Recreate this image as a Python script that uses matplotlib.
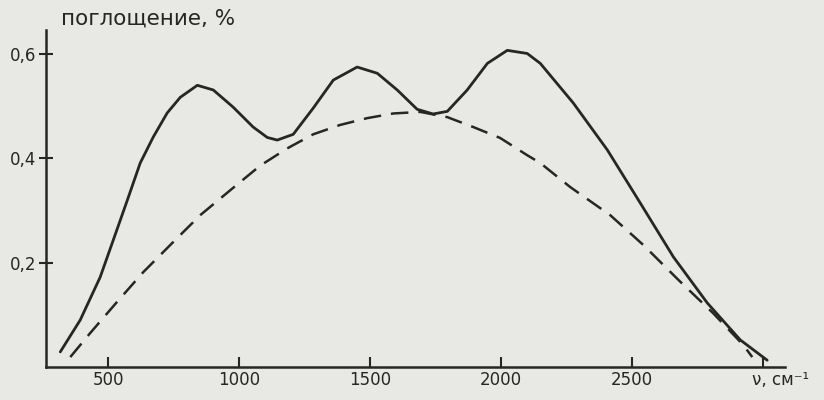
import matplotlib
matplotlib.use("Agg")
import matplotlib.pyplot as plt
import matplotlib.transforms as mtransforms

# wavenumber (cm^-1) and absorption (%)
solid_x = [317, 393, 469, 519, 573, 622, 672, 725, 775, 840, 901, 977, 1053,
           1107, 1145, 1206, 1282, 1359, 1450, 1527, 1603, 1679, 1740, 1794,
           1870, 1947, 2023, 2099, 2149, 2275, 2405, 2531, 2657, 2786, 2912,
           3015]
solid_y = [0.029, 0.090, 0.172, 0.243, 0.320, 0.391, 0.441, 0.487, 0.517,
           0.540, 0.531, 0.498, 0.460, 0.440, 0.435, 0.446, 0.496, 0.550,
           0.575, 0.563, 0.531, 0.494, 0.485, 0.490, 0.531, 0.582, 0.607,
           0.601, 0.582, 0.506, 0.416, 0.314, 0.211, 0.123, 0.052, 0.013]

dash_x = [355, 431, 534, 634, 737, 851, 966, 1080, 1183, 1282, 1385, 1488,
          1588, 1691, 1794, 1893, 1996, 2099, 2149, 2263, 2416, 2542, 2676,
          2809, 2924, 2958]
dash_y = [0.019, 0.065, 0.125, 0.182, 0.234, 0.291, 0.339, 0.386, 0.419,
          0.446, 0.464, 0.477, 0.486, 0.489, 0.479, 0.460, 0.439, 0.406,
          0.391, 0.345, 0.291, 0.234, 0.167, 0.103, 0.042, 0.019]

x_ticks = [500, 1000, 1500, 2000, 2500, 3000]
x_labels = ["500", "1000", "1500", "2000", "2500", "ν, см⁻¹"]
y_ticks = [0.2, 0.4, 0.6]
y_labels = ["0,2", "0,4", "0,6"]

paper = "#e8e8e5"
ink = "#262626"

fig = plt.figure(figsize=(8.24, 4.0), dpi=100, facecolor=paper)
ax = fig.add_axes([0.056, 0.0825, 0.897, 0.8425])
ax.set_facecolor(paper)

ax.plot(solid_x, solid_y, color=ink, lw=2.0,
        solid_joinstyle="round", solid_capstyle="round")
ax.plot(dash_x, dash_y, color=ink, lw=1.8, dashes=(7, 4))

ax.set_xlim(263, 3084)
ax.set_ylim(0, 0.646)

for side in ("top", "right"):
    ax.spines[side].set_visible(False)
for side in ("left", "bottom"):
    ax.spines[side].set_color(ink)
    ax.spines[side].set_linewidth(1.8)

ax.set_xticks(x_ticks)
ax.set_xticklabels(x_labels)
ax.set_yticks(y_ticks)
ax.set_yticklabels(y_labels)
ax.tick_params(axis="x", direction="in", length=7, width=1.5, colors=ink,
               labelsize=12, pad=3)
ax.tick_params(axis="y", direction="inout", length=10, width=1.5, colors=ink,
               labelsize=12, pad=2)

# axis unit label sits a bit right of the last tick, as on the scan
last = ax.get_xticklabels()[-1]
shift = mtransforms.ScaledTranslation(0.17, 0, fig.dpi_scale_trans)
last.set_transform(last.get_transform() + shift)

ax.text(0.02, 1.035, "поглощение, %", transform=ax.transAxes,
        fontsize=15.5, color=ink, ha="left", va="center")

fig.savefig("out.png", dpi=100, facecolor=paper)
